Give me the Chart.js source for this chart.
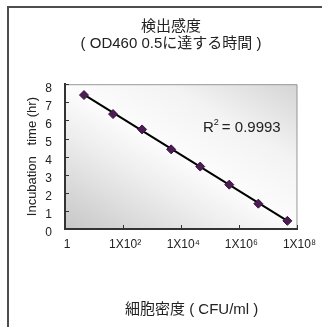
<!DOCTYPE html>
<html>
<head>
<meta charset="utf-8">
<script src="https://cdn.jsdelivr.net/npm/chart.js@4.4.1/dist/chart.umd.min.js"></script>
<style>
  html, body { margin: 0; padding: 0; background: #fff; overflow: hidden; }
  #wrap { position: relative; width: 322px; height: 327px; }
  #frame { position: absolute; left: 7px; top: 6px; width: 400px; height: 400px;
           border-top: 2px solid #4d4d4d; border-left: 2px solid #4d4d4d; }
  canvas { position: absolute; left: 0; top: 0; }
</style>
</head>
<body>
<div id="wrap">
  <div id="frame"></div>
  <canvas id="chart" width="322" height="327"></canvas>
</div>
<script>
// cell density (CFU/ml) vs hours until OD460 reaches 0.5
const cellDensity = [4.5, 45, 450, 4.5e3, 4.5e4, 4.5e5, 4.5e6, 4.5e7];
const incubationHours = [7.4, 6.35, 5.5, 4.4, 3.45, 2.45, 1.4, 0.45];

const trendX = [4.5, 4.5e7];
const trendY = [7.42, 0.45];

const xTicks = [1, 1e2, 1e4, 1e6, 1e8];
const xTickLabels = ['1', '1X10²', '1X10⁴', '1X10⁶', '1X10⁸'];
const titleLines = ['検出感度', '( OD460 0.5に達する時間 )'];
const rSquared = '0.9993';

const FONT = "'Liberation Sans', Arial, 'Noto Sans CJK JP', sans-serif";
Chart.defaults.font.family = FONT;
Chart.defaults.color = '#222';

// grey gradient panel behind the plot
const plotBackground = {
  id: 'plotBackground',
  beforeDraw(chart) {
    const { ctx, chartArea: a } = chart;
    const cx = (a.left + a.right) / 2, cy = (a.top + a.bottom) / 2;
    const g = ctx.createLinearGradient(cx - 64, cy + 106, cx + 64, cy - 106);
    g.addColorStop(0, '#c6c6c6');
    g.addColorStop(0.35, '#eeeeee');
    g.addColorStop(0.5, '#fcfcfc');
    g.addColorStop(0.72, '#f3f3f3');
    g.addColorStop(1, '#d4d4d4');
    ctx.save();
    ctx.fillStyle = g;
    ctx.fillRect(a.left, a.top, a.right - a.left, a.bottom - a.top);
    ctx.strokeStyle = '#9a9a9a';
    ctx.lineWidth = 1;
    ctx.beginPath();
    ctx.moveTo(a.left, a.top + 0.5);
    ctx.lineTo(a.right - 0.5, a.top + 0.5);
    ctx.lineTo(a.right - 0.5, a.bottom);
    ctx.stroke();
    ctx.restore();
  }
};

// small tick marks pointing into the plot
const inwardTicks = {
  id: 'inwardTicks',
  afterDatasetsDraw(chart) {
    const { ctx, chartArea: a, scales: { x, y } } = chart;
    ctx.save();
    ctx.strokeStyle = '#333';
    ctx.lineWidth = 1;
    ctx.beginPath();
    y.ticks.forEach(t => {
      const py = Math.round(y.getPixelForValue(t.value)) + 0.5;
      ctx.moveTo(a.left, py);
      ctx.lineTo(a.left + 4, py);
    });
    x.ticks.forEach(t => {
      const px = Math.round(x.getPixelForValue(t.value)) + 0.5;
      ctx.moveTo(px, a.bottom);
      ctx.lineTo(px, a.bottom - 4);
    });
    ctx.stroke();
    ctx.restore();
  }
};

// R^2 label
const rSquaredLabel = {
  id: 'rSquaredLabel',
  afterDatasetsDraw(chart) {
    const { ctx, scales: { x, y } } = chart;
    let px = x.getPixelForValue(Math.pow(10, 4.75));
    const py = y.getPixelForValue(5.57);
    ctx.save();
    ctx.fillStyle = '#222';
    ctx.textBaseline = 'middle';
    ctx.font = '15px ' + FONT;
    ctx.fillText('R', px, py);
    px += ctx.measureText('R').width;
    ctx.font = '9px ' + FONT;
    ctx.fillText('2', px, py - 6);
    px += ctx.measureText('2').width + 3;
    ctx.font = '15px ' + FONT;
    ctx.fillText('= ' + rSquared, px, py);
    ctx.restore();
  }
};

new Chart(document.getElementById('chart'), {
  type: 'scatter',
  data: {
    datasets: [
      {
        label: 'measured',
        data: cellDensity.map((v, i) => ({ x: v, y: incubationHours[i] })),
        pointStyle: 'rectRot',
        pointRadius: 4.5,
        backgroundColor: '#4b1d52',
        borderColor: '#3a1440',
        borderWidth: 1,
        order: 0
      },
      {
        label: 'fit',
        data: trendX.map((v, i) => ({ x: v, y: trendY[i] })),
        showLine: true,
        borderColor: '#000',
        borderWidth: 2,
        pointRadius: 0,
        order: 1
      }
    ]
  },
  options: {
    responsive: false,
    animation: false,
    layout: { padding: { left: 38, right: 18, top: 0, bottom: 0 }, autoPadding: false },
    plugins: {
      legend: { display: false },
      tooltip: { enabled: false },
      title: {
        display: true,
        text: titleLines,
        color: '#222',
        font: { size: 15, weight: 'normal', lineHeight: 1.14 },
        padding: { top: 18.5, bottom: 31.5 }
      }
    },
    scales: {
      x: {
        type: 'logarithmic',
        min: 1,
        max: 1e8,
        afterBuildTicks: s => { s.ticks = xTicks.map(v => ({ value: v })); },
        afterFit: s => { s.height = 98; },
        grid: { display: false, drawTicks: false },
        border: { display: true, color: '#333', width: 2 },
        ticks: {
          autoSkip: false,
          maxRotation: 0,
          padding: 8,
          labelOffset: 2,
          font: { size: 12 },
          callback: (v, i) => xTickLabels[i]
        },
        title: {
          display: true,
          text: '     細胞密度 ( CFU/ml )',
          color: '#222',
          font: { size: 15, lineHeight: 1.14 },
          padding: { top: 0, bottom: 9 }
        }
      },
      y: {
        min: 0,
        max: 8,
        afterFit: s => { s.width = 27; },
        grid: { display: false, drawTicks: false },
        border: { display: true, color: '#333', width: 2 },
        ticks: { stepSize: 1, padding: 13, labelOffset: 4, font: { size: 12 } },
        title: {
          display: true,
          text: 'Incubation   time (hr)',
          color: '#222',
          font: { size: 13, lineHeight: 1.2 },
          padding: { top: -13.8, bottom: 0 }
        }
      }
    }
  },
  plugins: [plotBackground, inwardTicks, rSquaredLabel]
});
</script>
</body>
</html>
